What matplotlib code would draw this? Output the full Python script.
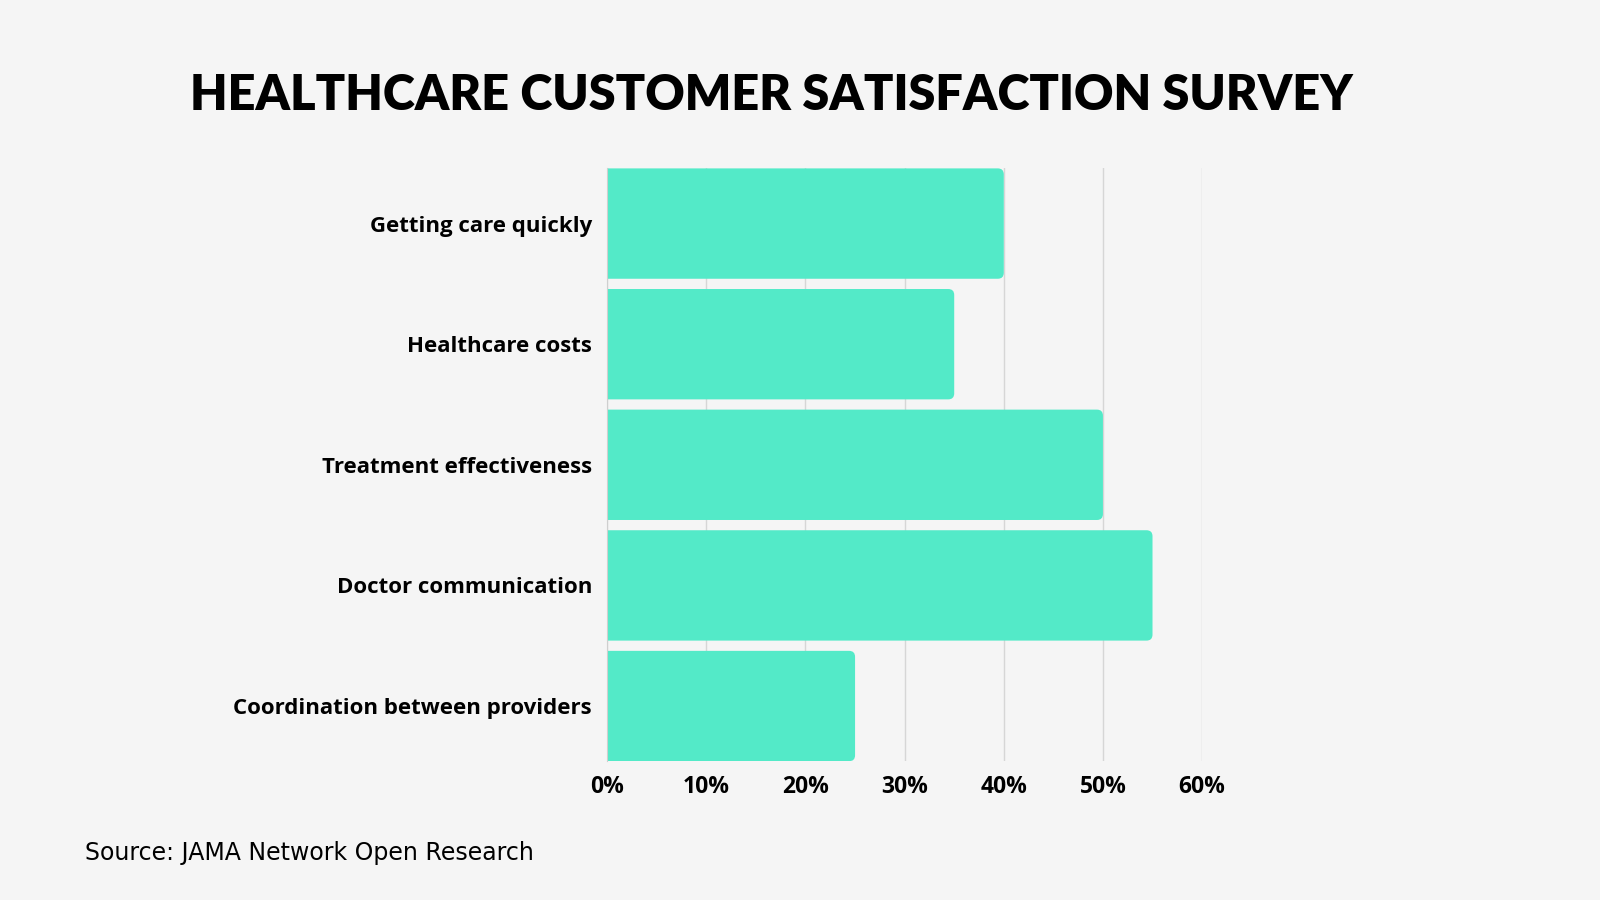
import matplotlib.pyplot as plt
from matplotlib.patches import FancyBboxPatch
import numpy as np

# data
categories = ['Getting care quickly', 'Healthcare costs', 'Treatment effectiveness',
              'Doctor communication', 'Coordination between providers']
values = [40, 35, 50, 55, 25]
ticks = [0, 10, 20, 30, 40, 50, 60]
tick_labels = ['0%', '10%', '20%', '30%', '40%', '50%', '60%']

bg = '#f5f5f5'
bar_col = '#53eac8'
h = 0.915

fig = plt.figure(figsize=(16, 9), dpi=100, facecolor=bg)
ax = fig.add_axes([0.3795, 0.1542, 0.7513 - 0.3795, 0.8129 - 0.1542])
ax.set_facecolor(bg)

y = np.arange(len(categories))
ax.set_ylim(len(categories) - 1 + h / 2, -h / 2)
ax.set_xlim(0, 60)

# bars with rounded right corners; left corners start off-axes and get clipped
r_px = 6
bbox = ax.get_position()
ax_w = bbox.width * 1600
ax_h = bbox.height * 900
x_per_px = 60 / ax_w
y_per_px = (len(categories) - 1 + h) / ax_h
x0 = -2
for yi, v in zip(y, values):
    p = FancyBboxPatch((x0, yi - h / 2), v - x0, h,
                       boxstyle='round,pad=0,rounding_size=%f' % (r_px * x_per_px),
                       mutation_aspect=y_per_px / x_per_px,
                       facecolor=bar_col, edgecolor='none', zorder=3)
    ax.add_patch(p)

ax.set_xticks(ticks)
ax.set_xticklabels(tick_labels, fontsize=16.5, fontweight='bold', family='Open Sans')
ax.set_yticks(y)
ax.set_yticklabels(categories, fontsize=16, fontweight='bold', family='Open Sans')
ax.tick_params(axis='both', length=0)
ax.tick_params(axis='y', pad=11)
ax.tick_params(axis='x', pad=10)

ax.grid(axis='x', color='#d6d6d6', linewidth=1, zorder=0)
for s in ['top', 'right', 'bottom']:
    ax.spines[s].set_visible(False)
ax.spines['left'].set_color('#cfcfcf')
ax.spines['left'].set_zorder(4)

fig.text(0.482, 0.894, 'HEALTHCARE CUSTOMER SATISFACTION SURVEY', ha='center', va='center',
         fontsize=35, fontweight='heavy', family='Lato')
fig.text(0.053, 0.052, 'Source: JAMA Network Open Research', ha='left', va='center',
         fontsize=17, family='DejaVu Sans')

fig.savefig('out.png', dpi=100, facecolor=bg)
